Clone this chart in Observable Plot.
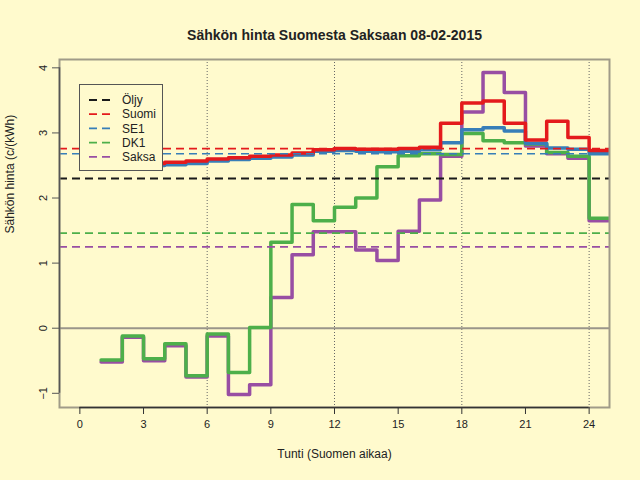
<!DOCTYPE html>
<html>
<head>
<meta charset="utf-8">
<script src="https://cdn.jsdelivr.net/npm/d3@7"></script>
<script src="https://cdn.jsdelivr.net/npm/@observablehq/plot@0.6"></script>
<style>
  html, body { margin: 0; padding: 0; background: #FFFACD; }
  #chart { width: 640px; height: 480px; }
</style>
</head>
<body>
<div id="chart"></div>
<script>
// ---- data ----
const hours = [1,2,3,4,5,6,7,8,9,10,11,12,13,14,15,16,17,18,19,20,21,22,23,24];
const suomi = [2.50,2.51,2.53,2.55,2.57,2.60,2.62,2.64,2.66,2.69,2.74,2.76,2.75,2.75,2.76,2.78,3.15,3.46,3.49,3.15,2.89,3.18,2.93,2.73];
const se1   = [2.47,2.48,2.50,2.51,2.53,2.57,2.59,2.61,2.63,2.66,2.72,2.73,2.72,2.71,2.72,2.74,2.85,3.05,3.08,3.03,2.84,2.77,2.75,2.68];
const dk1   = [-0.49,-0.12,-0.47,-0.24,-0.73,-0.09,-0.68,0.01,1.32,1.90,1.65,1.86,2.00,2.48,2.65,2.68,2.67,2.99,2.88,2.85,2.83,2.70,2.64,1.69];
const saksa = [-0.52,-0.14,-0.50,-0.27,-0.75,-0.12,-1.02,-0.87,0.47,1.13,1.48,1.48,1.20,1.04,1.49,1.97,2.64,3.32,3.93,3.62,2.80,2.68,2.61,1.65];

const seriesNames  = ["Öljy", "Suomi", "SE1", "DK1", "Saksa"];
const seriesColors = ["#1a1a1a", "#E41A1C", "#377EB8", "#4DAF4A", "#984EA3"];
const meanValues   = [2.30, 2.76, 2.68, 1.46, 1.25];

const xTicks = [0,3,6,9,12,15,18,21,24];
const yTicks = [-1,0,1,2,3,4];
const gridX  = [6,12,18,24];

const title  = "Sähkön hinta Suomesta Saksaan 08-02-2015";
const xLabel = "Tunti (Suomen aikaa)";
const yLabel = "Sähkön hinta (c/(kWh)";

// ---- build tables ----
const stepSeries = [["Saksa", saksa], ["DK1", dk1], ["SE1", se1], ["Suomi", suomi]];
const colorOf = Object.fromEntries(seriesNames.map((n, i) => [n, seriesColors[i]]));
const rows = [];
for (const [name, vals] of stepSeries) {
  hours.forEach((h, i) => rows.push({series: name, hour: h, value: vals[i]}));
  // hold the last hour's value through to the end of that hour
  rows.push({series: name, hour: hours[hours.length - 1] + 1, value: vals[vals.length - 1]});
}
const means = seriesNames.map((n, i) => ({series: n, value: meanValues[i]}));

// R-style 4% axis extension
const ext = ([a, b]) => [a - 0.04 * (b - a), b + 0.04 * (b - a)];
const xDom = ext([d3.min(xTicks), d3.max(xTicks)]);
const yDom = ext(d3.extent([...suomi, ...se1, ...dk1, ...saksa]));

const font = "'Liberation Sans', Arial, Helvetica, sans-serif";
const ink = "#222";

const chart = Plot.plot({
  width: 640,
  height: 480,
  marginLeft: 59,
  marginRight: 31,
  marginTop: 59,
  marginBottom: 73,
  style: {background: "#FFFACD", fontFamily: font, fontSize: "11px", color: ink},
  x: {domain: xDom, label: null},
  y: {domain: yDom, label: null},
  marks: [
    Plot.ruleX(gridX, {stroke: "#666", strokeWidth: 1, strokeDasharray: "1,2"}),
    Plot.ruleY([0], {stroke: "#9a958a", strokeWidth: 2}),
    ...stepSeries.map(([name]) =>
      Plot.line(rows.filter(r => r.series === name), {
        x: "hour", y: "value", curve: "step-after",
        stroke: colorOf[name], strokeWidth: 3.5, clip: true
      })
    ),
    ...means.map(m =>
      Plot.ruleY([m.value], {
        stroke: colorOf[m.series],
        strokeWidth: m.series === "Öljy" ? 2 : 1.7,
        strokeDasharray: "8,5"
      })
    ),
    Plot.frame({stroke: "#a09b88", strokeWidth: 2}),
    Plot.ruleY([yDom[0]], {x1: d3.min(xTicks), x2: d3.max(xTicks), stroke: "#333", strokeWidth: 1.5}),
    Plot.ruleX([xDom[0]], {y1: d3.min(yTicks), y2: d3.max(yTicks), stroke: "#555", strokeWidth: 1.5}),
    Plot.axisX(xTicks, {tickSize: 7, tickPadding: 6, fontSize: 11, label: null, stroke: "#333", tickFormat: d3.format("d")}),
    Plot.axisY(yTicks, {tickSize: 7, tickPadding: 6, tickRotate: -90, fontSize: 11, label: null, stroke: "#555", tickFormat: d3.format("d")}),
    Plot.text([title], {frameAnchor: "top", dy: -29, fontSize: 14, fontWeight: "bold", fill: ink}),
    Plot.text([xLabel], {frameAnchor: "bottom", dy: 50, fontSize: 12, fill: ink}),
    Plot.text([yLabel], {frameAnchor: "left", dx: -49, rotate: -90, fontSize: 12, fill: ink})
  ]
});
document.getElementById("chart").appendChild(chart);

// ---- legend inside the plot (top-left) ----
const svg = d3.select(chart);
const lg = svg.append("g").attr("font-family", font).attr("font-size", 12).attr("text-anchor", "start");
lg.append("rect").attr("x", 79.5).attr("y", 84.5).attr("width", 83).attr("height", 86)
  .attr("fill", "#FFFACD").attr("stroke", "#555").attr("stroke-width", 1);
seriesNames.forEach((n, i) => {
  const yy = 100 + i * 14.2;
  lg.append("line").attr("x1", 89).attr("x2", 110).attr("y1", yy).attr("y2", yy)
    .attr("stroke", seriesColors[i]).attr("stroke-width", i === 0 ? 2 : 1.7)
    .attr("stroke-dasharray", "8,5");
  lg.append("text").attr("x", 122).attr("y", yy).attr("dy", "0.35em")
    .attr("text-anchor", "start").attr("fill", ink).text(n);
});
</script>
</body>
</html>
